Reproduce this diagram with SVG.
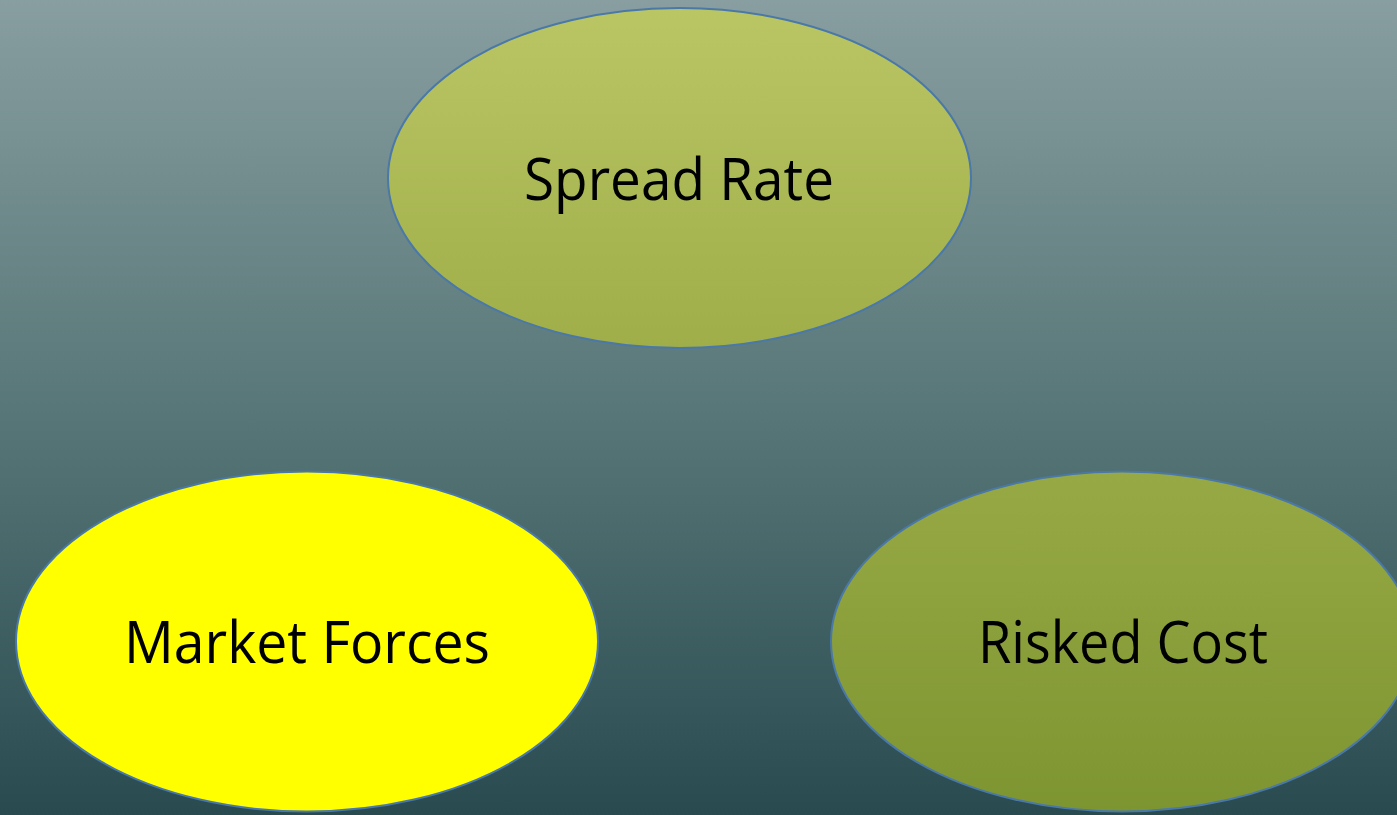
<svg xmlns="http://www.w3.org/2000/svg" width="1397" height="815" viewBox="0 0 1397 815">
  <defs>
    <linearGradient id="bg" x1="0" y1="0" x2="0" y2="1">
      <stop offset="0" stop-color="#889ea0"/>
      <stop offset="0.5" stop-color="#587778"/>
      <stop offset="1" stop-color="#294b50"/>
    </linearGradient>
    <linearGradient id="g1" x1="0" y1="0" x2="0" y2="1">
      <stop offset="0" stop-color="#bac664"/>
      <stop offset="1" stop-color="#9fae49"/>
    </linearGradient>
    <linearGradient id="g3" x1="0" y1="0" x2="0" y2="1">
      <stop offset="0" stop-color="#97a944"/>
      <stop offset="1" stop-color="#7d9531"/>
    </linearGradient>
    <style>
      .node { stroke: #4a78a8; stroke-width: 2; }
      .label { font-family: "Open Sans", "Liberation Sans", sans-serif; font-size: 58px; fill: #000; text-anchor: middle; }
    </style>
  </defs>
  <rect x="0" y="0" width="1397" height="815" fill="url(#bg)"/>
  <g id="connectors"></g>
  <g id="spread-rate">
    <ellipse class="node" cx="679.5" cy="178" rx="291.5" ry="170" fill="url(#g1)"/>
    <text class="label" x="679" y="200" textLength="310" lengthAdjust="spacingAndGlyphs">Spread Rate</text>
  </g>
  <g id="market-forces">
    <ellipse class="node" cx="307" cy="641.5" rx="291" ry="170" fill="#ffff00"/>
    <text class="label" x="307" y="663" textLength="366" lengthAdjust="spacingAndGlyphs">Market Forces</text>
  </g>
  <g id="risked-cost">
    <ellipse class="node" cx="1122" cy="641.5" rx="291" ry="170" fill="url(#g3)"/>
    <text class="label" x="1123" y="663" textLength="290" lengthAdjust="spacingAndGlyphs">Risked Cost</text>
  </g>
</svg>
